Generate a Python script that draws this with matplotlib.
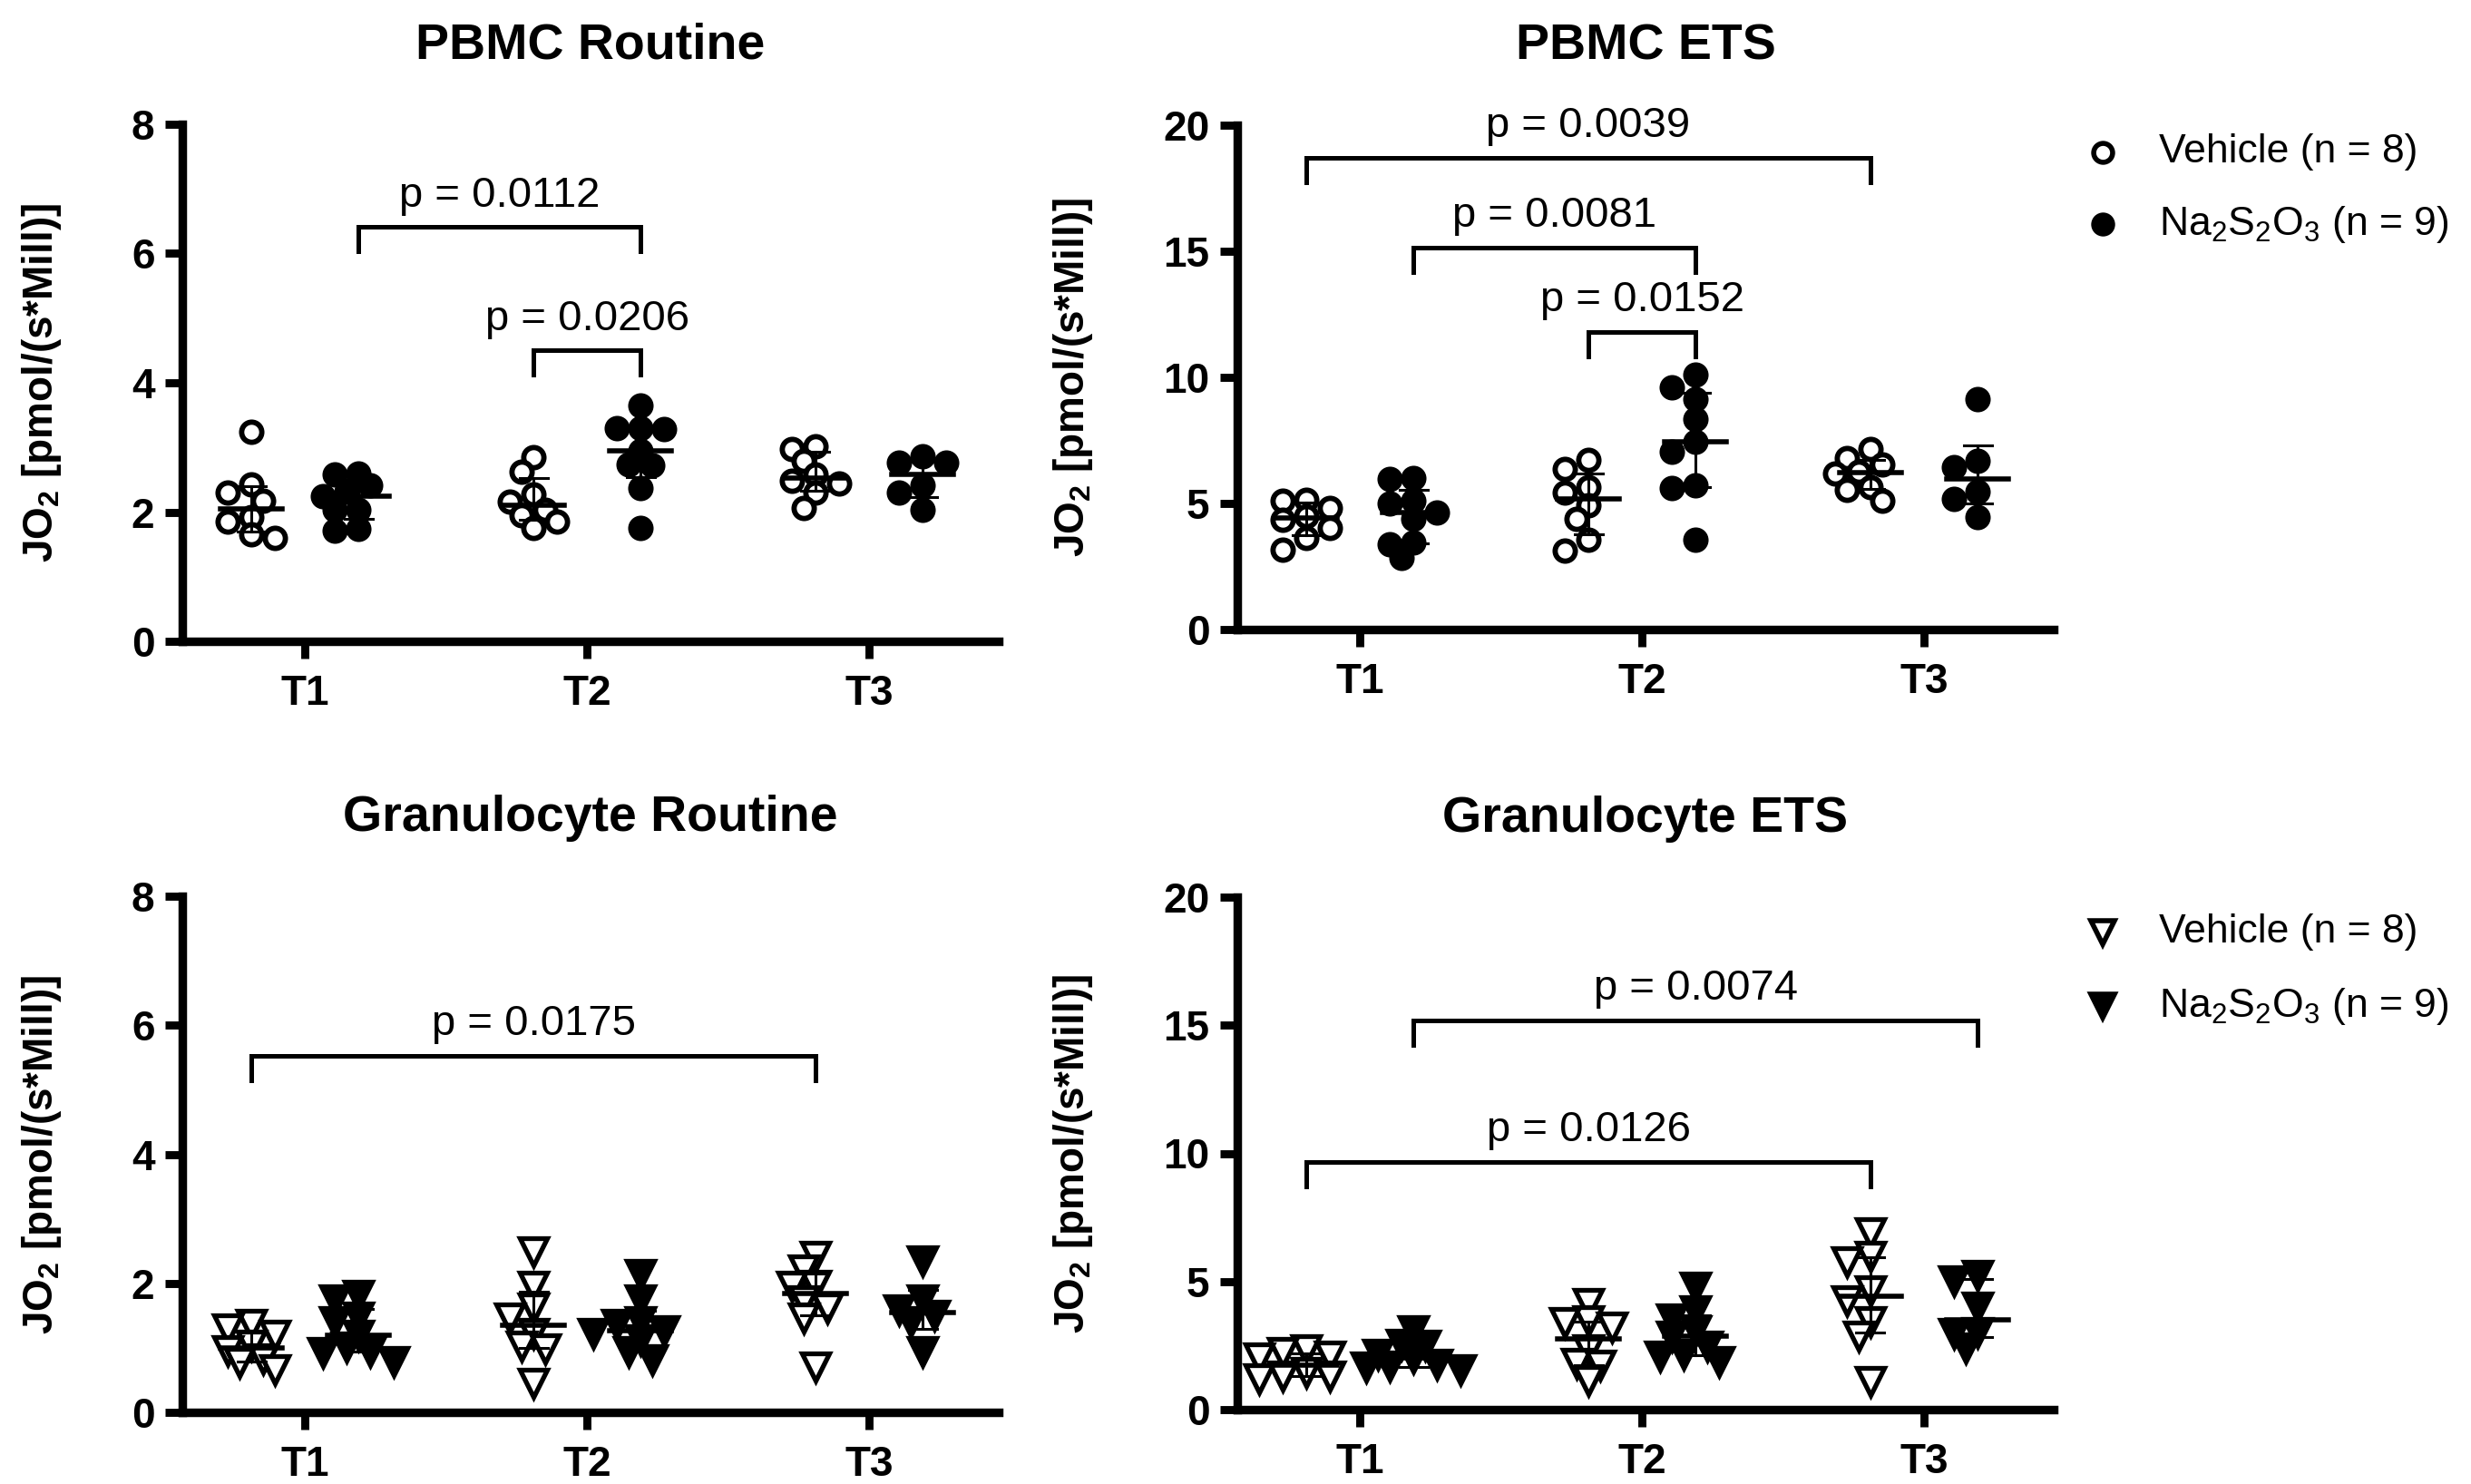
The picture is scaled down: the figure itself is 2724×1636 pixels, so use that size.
import numpy as np
import matplotlib
matplotlib.use('Agg')
import matplotlib.pyplot as plt

plt.rcParams['font.family'] = ['Liberation Sans', 'DejaVu Sans']
plt.rcParams['mathtext.fontset'] = 'custom'
plt.rcParams['mathtext.rm'] = 'Liberation Sans'
plt.rcParams['mathtext.it'] = 'Liberation Sans:italic'
plt.rcParams['mathtext.bf'] = 'Liberation Sans:bold'
plt.rcParams['mathtext.default'] = 'regular'

timepoints = ['T1', 'T2', 'T3']

# PBMC routine respiration, one list per timepoint
pbmc_routine_veh = [[3.24, 2.43, 2.30, 2.18, 1.92, 1.85, 1.65, 1.60],
                    [2.85, 2.62, 2.27, 2.16, 2.04, 1.95, 1.85, 1.76],
                    [3.02, 2.98, 2.79, 2.58, 2.48, 2.44, 2.30, 2.06]]
pbmc_routine_na = [[2.60, 2.58, 2.41, 2.32, 2.25, 2.04, 2.04, 1.74, 1.71],
                   [3.65, 3.30, 3.30, 3.28, 2.95, 2.74, 2.72, 2.37, 1.76],
                   [2.86, 2.76, 2.76, 2.41, 2.30, 2.04]]

# PBMC ETS capacity
pbmc_ets_veh = [[5.16, 5.12, 4.82, 4.48, 4.34, 4.04, 3.62, 3.17],
                [6.74, 6.38, 5.66, 5.42, 4.94, 4.40, 3.56, 3.14],
                [7.16, 6.80, 6.56, 6.26, 6.20, 5.66, 5.54, 5.12]]
pbmc_ets_na = [[6.02, 5.96, 5.12, 5.00, 4.64, 4.40, 3.44, 3.38, 2.84],
               [10.10, 9.62, 9.14, 8.36, 7.46, 7.04, 5.72, 5.60, 3.56],
               [9.14, 6.68, 6.44, 5.48, 5.18, 4.46]]

# granulocyte routine respiration
gran_routine_veh = [[1.36, 1.29, 1.20, 1.04, 0.95, 0.83, 0.78, 0.66],
                    [2.49, 1.95, 1.61, 1.46, 1.23, 1.02, 0.99, 0.45],
                    [2.42, 2.21, 1.97, 1.95, 1.73, 1.62, 1.46, 0.71]]
gran_routine_na = [[1.81, 1.74, 1.47, 1.41, 1.20, 1.01, 0.94, 0.93, 0.79],
                   [2.14, 1.74, 1.40, 1.36, 1.26, 1.22, 1.13, 0.94, 0.81],
                   [2.35, 1.74, 1.59, 1.50, 1.41, 0.94]]

# granulocyte ETS capacity
gran_ets_veh = [[2.32, 2.24, 2.09, 2.03, 1.44, 1.32, 1.30, 1.20],
                [4.15, 3.46, 3.39, 3.21, 2.33, 1.79, 1.73, 1.14],
                [6.90, 5.98, 5.78, 4.63, 4.25, 3.42, 2.86, 1.09]]
gran_ets_na = [[3.09, 2.56, 2.50, 2.15, 2.03, 1.77, 1.70, 1.65, 1.56],
               [4.77, 3.86, 3.53, 3.09, 2.88, 2.47, 2.15, 2.09, 1.88],
               [5.25, 5.04, 4.01, 3.00, 2.97, 2.42]]

# significance brackets: (timepoint, group) -> (timepoint, group), height, label
pbmc_routine_p = [((0, 1), (1, 1), 6.41, 'p = 0.0112'),
                  ((1, 0), (1, 1), 4.50, 'p = 0.0206')]
pbmc_ets_p = [((0, 0), (2, 0), 18.72, 'p = 0.0039'),
              ((0, 1), (1, 1), 15.15, 'p = 0.0081'),
              ((1, 0), (1, 1), 11.80, 'p = 0.0152')]
gran_routine_p = [((0, 0), (2, 0), 5.53, 'p = 0.0175')]
gran_ets_p = [((0, 1), (2, 1), 15.20, 'p = 0.0074'),
              ((0, 0), (2, 0), 9.66, 'p = 0.0126')]

legend_labels = ['Vehicle (n = 8)', 'Na$_2$S$_2$O$_3$ (n = 9)']
ylabel = 'JO$_2$ [pmol/(s*Mill)]'

W, H = 2724, 1636
fig = plt.figure(figsize=(W / 200, H / 200), dpi=200)

GROUP_SHIFT = 0.19
DIAM = 26.0  # marker diameter in pixels
CIRCLE_MS = 8.0
TRI_MS = 10.5


def swarm(vals, px_x, px_y, tight):
    # simple beeswarm: push points sideways until they don't collide much
    step = DIAM / 2
    cands = [0.0]
    for k in range(1, 12):
        cands += [-k * step, k * step]
    placed = []
    offs = np.zeros(len(vals))
    for i in np.argsort(vals)[::-1]:
        y = vals[i] * px_y
        for c in cands:
            if all(np.hypot(c - px, y - py) >= DIAM * tight for px, py in placed):
                break
        placed.append((c, y))
        offs[i] = c / px_x
    return offs


def panel(rect, title, veh, na, ymax, ystep, marker, brackets):
    x0, y0, x1, y1 = rect
    ax = fig.add_axes([x0 / W, 1 - y1 / H, (x1 - x0) / W, (y1 - y0) / H])
    xlim = (-0.435, 2.46)
    ax.set_xlim(*xlim)
    ax.set_ylim(0, ymax)
    px_x = (x1 - x0) / (xlim[1] - xlim[0])
    px_y = (y1 - y0) / ymax

    for g, (series, face) in enumerate([(veh, 'white'), (na, 'black')]):
        for t, vals in enumerate(series):
            vals = np.array(vals)
            c = t + (2 * g - 1) * GROUP_SHIFT
            if marker == 'o':
                xs = c + swarm(vals, px_x, px_y, 0.72)
                ax.plot(xs, vals, 'o', ms=CIRCLE_MS, mew=2.1, mfc=face, mec='black',
                        ls='none', zorder=2, clip_on=False)
            else:
                xs = c + swarm(vals, px_x, px_y, 0.68)
                ax.plot(xs, vals, 'v', ms=TRI_MS, mew=1.9, mfc=face, mec='black',
                        ls='none', zorder=2, clip_on=False)
            q1, med, q3 = np.percentile(vals, [25, 50, 75], method='weibull')
            ax.plot([c - 0.11, c + 0.11], [med, med], color='black', lw=2.0, zorder=3)
            ax.plot([c, c], [q1, q3], color='black', lw=1.1, zorder=3)
            for q in (q1, q3):
                ax.plot([c - 0.05, c + 0.05], [q, q], color='black', lw=1.1, zorder=3)

    leg = 27 / px_y
    for (ta, ga), (tb, gb), yb, lab in brackets:
        xa = ta + (2 * ga - 1) * GROUP_SHIFT
        xb = tb + (2 * gb - 1) * GROUP_SHIFT
        ax.plot([xa, xa, xb, xb], [yb - leg, yb, yb, yb - leg], color='black',
                lw=1.8, solid_joinstyle='miter', zorder=3)
        ax.annotate(lab, xy=((xa + xb) / 2, yb), xytext=(0, 12.5),
                    textcoords='offset points', ha='center', va='center',
                    fontsize=17)

    for s in ['top', 'right']:
        ax.spines[s].set_visible(False)
    for s in ['left', 'bottom']:
        ax.spines[s].set_linewidth(3.4)
    ax.set_xticks(range(3))
    ax.set_xticklabels(timepoints)
    ax.set_yticks(np.arange(0, ymax + 0.01, ystep))
    ax.tick_params(axis='both', direction='out', length=7, width=3.2, labelsize=16.5)
    ax.tick_params(axis='y', pad=4)
    ax.tick_params(axis='x', pad=6)
    for lbl in ax.get_xticklabels() + ax.get_yticklabels():
        lbl.set_fontweight('bold')
    ax.set_ylabel(ylabel, fontsize=16.5, fontweight='bold', labelpad=27)
    ax.set_title(title, fontsize=20, fontweight='bold', pad=26)
    return ax


panel((201, 137, 1101, 707), 'PBMC Routine', pbmc_routine_veh, pbmc_routine_na,
      8, 2, 'o', pbmc_routine_p)
panel((1364, 138, 2264, 694), 'PBMC ETS', pbmc_ets_veh, pbmc_ets_na,
      20, 5, 'o', pbmc_ets_p)
panel((201, 988, 1101, 1557), 'Granulocyte Routine', gran_routine_veh, gran_routine_na,
      8, 2, 'v', gran_routine_p)
panel((1364, 989, 2264, 1554), 'Granulocyte ETS', gran_ets_veh, gran_ets_na,
      20, 5, 'v', gran_ets_p)

# legends, placed in figure pixels
for marker, ys, ms in [('o', (168, 247), CIRCLE_MS - 0.5), ('v', (1028, 1109), TRI_MS - 0.8)]:
    for face, y, lab in zip(['white', 'black'], ys, legend_labels):
        fig.add_artist(plt.Line2D([2318 / W], [1 - y / H], marker=marker, ms=ms,
                                  mew=2.0, mfc=face, mec='black', ls='none',
                                  transform=fig.transFigure))
        fig.text(2380 / W, 1 - y / H, lab, fontsize=16, ha='left', va='center')

fig.savefig('out.png', dpi=200)
